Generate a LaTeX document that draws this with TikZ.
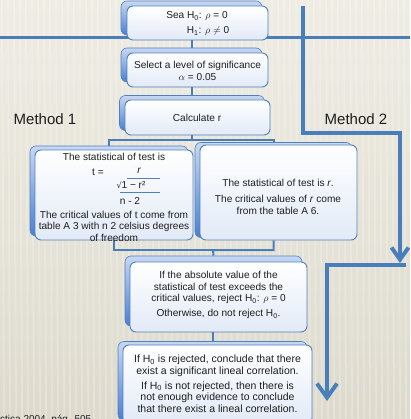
\documentclass[tikz,border=0pt]{standalone}
\usepackage{fontspec}
\setmainfont{Liberation Sans}
\newfontfamily\djv{DejaVu Sans}
\usetikzlibrary{arrows.meta,calc}
\definecolor{bgtop}{HTML}{EFECE4}
\definecolor{bgbot}{HTML}{DDDACD}
\definecolor{boxblue}{HTML}{4F81BD}
\definecolor{linblue}{HTML}{4A7EBB}
\definecolor{frontbot}{HTML}{E2EAF7}
\definecolor{backtop}{HTML}{C8D8F2}
\definecolor{backbot}{HTML}{4A7FD2}
\definecolor{textc}{HTML}{1E1E1E}
\tikzset{
  front/.style={draw=boxblue, line width=0.9pt, rounded corners=6pt, top color=white, bottom color=frontbot, inner sep=0pt},
  back/.style={draw=boxblue, line width=0.6pt, rounded corners=6pt, top color=backtop, bottom color=backbot, inner sep=0pt},
  conn/.style={draw=linblue, line width=2pt},
  hline/.style={draw=linblue, line width=3pt},
  mline/.style={draw=linblue, line width=4pt, line join=miter},
  txt/.style={font=\fontsize{10.1}{11.5}\selectfont, text=textc, align=center, inner sep=0pt},
  mtxt/.style={font=\fontsize{15}{17}\selectfont, text=textc, inner sep=0pt},
  fracline/.style={draw=boxblue, line width=0.8pt}
}
\begin{document}
\begin{tikzpicture}[x=1pt,y=-1pt]
\useasboundingbox (0,0) rectangle (410,419);
\fill[top color=bgtop,bottom color=bgbot] (0,0) rectangle (410,419);
\foreach \i in {2,8,...,410} \draw[white, opacity=0.22, line width=2pt] (\i,0) -- (\i+2,419);

% horizontal line
\coordinate (hl) at (0,38);
\coordinate (hr) at (410,38);
\draw[hline] (hl) -- (hr);

% Method 2 path
\coordinate (m2a) at (303,6);
\coordinate (m2b) at (303,133);
\coordinate (m2c) at (400,133);
\coordinate (m2d) at (400,263);
\draw[mline, -{Straight Barb[length=12pt,width=17pt]}] (m2a) -- (m2b) -- (m2c) -- (m2d);
\coordinate (m2e) at (406,265);
\coordinate (m2f) at (327,265);
\coordinate (m2g) at (327,401);
\draw[mline, -{Straight Barb[length=14pt,width=20pt]}] (m2e) -- (m2f) -- (m2g);

% boxes
\node[back, minimum width=141pt, minimum height=34pt] (b1back) at (191.5,18) {};
\node[front, minimum width=141pt, minimum height=34pt] (b1) at (197.5,23) {};
\node[back, minimum width=141pt, minimum height=34pt] (b2back) at (191.5,65) {};
\node[front, minimum width=141pt, minimum height=34pt] (b2) at (197.5,70) {};
\node[back, minimum width=145pt, minimum height=35pt] (b3back) at (192,113) {};
\node[front, minimum width=145pt, minimum height=35pt] (b3) at (197.5,117.5) {};
\node[back, minimum width=158pt, minimum height=90pt] (b4back) at (109,191) {};
\node[front, minimum width=158pt, minimum height=90pt] (b4) at (114,195) {};
\node[back, minimum width=157pt, minimum height=95pt] (b5back) at (273.5,190) {};
\node[front, minimum width=157pt, minimum height=95pt] (b5) at (278.5,192.5) {};
\node[back, minimum width=177pt, minimum height=70pt] (b6back) at (213.5,291) {};
\node[front, minimum width=177pt, minimum height=70pt] (b6) at (218.5,297) {};
\node[back, minimum width=189pt, minimum height=79pt] (b7back) at (212.5,381) {};
\node[front, minimum width=189pt, minimum height=79pt] (b7) at (217.5,384.5) {};

% connectors
\draw[conn] (b1.south -| b2back.north) -- (b2back.north);
\draw[conn] (b2.south -| b3back.north) -- (b3back.north);
\coordinate (s1) at (192,140);
\draw[conn] (b3.south -| s1) -- (s1);
\draw[conn] (b4back.north) |- (s1) -| (b5back.north);
\coordinate (s2) at (213,250);
\draw[conn] (b4.south) |- (s2);
\draw[conn] (b5.south -| b5back.north) |- (s2) -- (b6back.north);
\draw[conn] (b6.south -| b7back.north) -- (b7back.north);

% texts
\node[txt] (b1t1) at (197,16) {Sea H\textsubscript{0}: $\rho$ = 0};
\node[txt] (b1t2) at (208,31) {H\textsubscript{1}: $\rho$ $\neq$ 0};
\node[txt] (b2t) at (197.5,71) {Select a level of significance\\$\alpha$ = 0.05};
\node[txt] (b3t) at (197,118) {Calculate r};

\node[txt] (b4t1) at (114,157) {The statistical of test is};
\node[txt] (b4teq) at (98,172) {t =};
\node[txt] (b4r) at (139,171) {\itshape r};
\draw[fracline] (127,178) -- (160,178);
\node[txt] (b4sq) at (131,185) {{\djv\fontsize{8}{9}\selectfont √}1 − r²};
\draw[fracline] (120,192) -- (160,192);
\node[txt] (b4n) at (130,201) {n - 2};
\node[txt] (b4t2) at (114,226) {The critical values of t come from\\table A 3 with n 2 celsius degrees\\of freedom};

\node[txt] (b5t) at (278,197) {The statistical of test is \textit{r}.\\[4.5pt]The critical values of \textit{r} come\\from the table A 6.};

\node[txt] (b6t) at (218.5,295) {If the absolute value of the\\statistical of test exceeds the\\critical values, reject H\textsubscript{0}: $\rho$ = 0\\[3.5pt]Otherwise, do not reject H\textsubscript{0}.};

\node[txt, font=\fontsize{10.5}{11.5}\selectfont] (b7t) at (217.5,383.5) {If H\textsubscript{0} is rejected, conclude that there\\exist a significant lineal correlation.\\[3.5pt]If H\textsubscript{0} is not rejected, then there is\\not enough evidence to conclude\\that there exist a lineal correlation.};

\node[mtxt] (m1) at (45,119) {Method 1};
\node[mtxt] (m2) at (356,119) {Method 2};
\node[anchor=base west, font=\fontsize{10}{12}\selectfont, text=textc, inner sep=0pt] (src) at (0,422) {ctica 2004, pág. 505};
\end{tikzpicture}
\end{document}
